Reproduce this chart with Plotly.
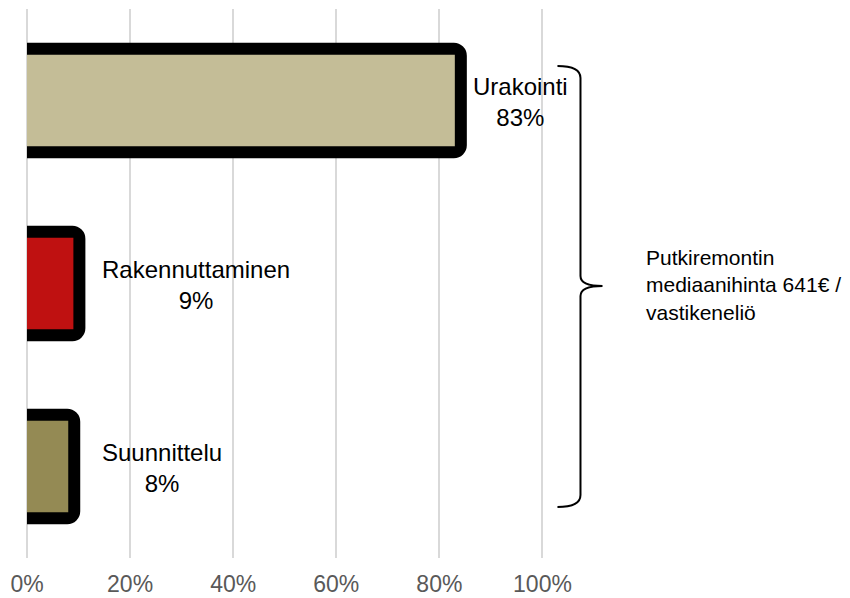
import plotly.graph_objects as go

categories = ["Urakointi", "Rakennuttaminen", "Suunnittelu"]
values = [83, 9, 8]
value_labels = ["83%", "9%", "8%"]
colors = ["#C4BD97", "#BF1111", "#948A54"]
tick_vals = [0, 20, 40, 60, 80, 100]
tick_text = ["0%", "20%", "40%", "60%", "80%", "100%"]
side_note = "Putkiremontin<br>mediaanihinta 641€ /<br>vastikeneliö"

# page has an 8px body margin; plot area wanted at page x 27..542, y 9..558
OFF = 8
W, H = 850 - OFF, 598 - OFF
X_MAX = 100.3
PX0, PX1, PY0, PY1 = 27, 542 + 0.3 * 5.15, 9, 558
L, R, T, B = PX0 - OFF, 850 - PX1, PY0 - OFF, 598 - PY1

def px(x):
    return (x - PX0) / (PX1 - PX0)

def py(y):
    return (PY1 - y) / (PY1 - PY0)

fig = go.Figure()
# black outline layer
fig.add_trace(go.Bar(
    y=categories, x=values, orientation="h", width=0.5,
    marker=dict(color="black", line=dict(color="black", width=24), cornerradius=1),
    hoverinfo="skip", showlegend=False,
))
# fill layer
fig.add_trace(go.Bar(
    y=categories, x=values, orientation="h", width=0.5,
    marker=dict(color=colors, line=dict(width=0)),
    showlegend=False,
))

shifts = [16, 27, 32]
for cat, v, lab, s in zip(categories, values, value_labels, shifts):
    fig.add_annotation(
        x=v, y=cat, xref="x", yref="y", text=f"{cat}<br>{lab}",
        showarrow=False, xanchor="left", yanchor="middle", align="center",
        xshift=s, yshift=-1,
        font=dict(family="Liberation Sans, Arial", size=24, color="black"),
    )

fig.add_annotation(
    x=px(645), y=py(285), xref="paper", yref="paper", text=side_note,
    showarrow=False, xanchor="left", yanchor="middle", align="left",
    xshift=-2,
    font=dict(family="Liberation Sans, Arial", size=21, color="black"),
)

brace = (
    f"M {px(557)},{py(66)} Q {px(580)},{py(66)} {px(580)},{py(78)} "
    f"L {px(580)},{py(276)} Q {px(580)},{py(286)} {px(602)},{py(286)} "
    f"Q {px(580)},{py(286)} {px(580)},{py(296)} "
    f"L {px(580)},{py(495)} Q {px(580)},{py(507)} {px(557)},{py(507)}"
)
fig.add_shape(type="path", path=brace, xref="paper", yref="paper",
              line=dict(color="black", width=2))

fig.update_layout(
    width=W, height=H,
    margin=dict(l=L, r=R, t=T, b=B, pad=0, autoexpand=False),
    paper_bgcolor="white", plot_bgcolor="white",
    barmode="overlay",
    xaxis=dict(
        range=[0, X_MAX], tickvals=tick_vals, ticktext=tick_text,
        showgrid=True, gridcolor="#D9D9D9", gridwidth=1.5,
        zeroline=True, zerolinecolor="#D9D9D9", zerolinewidth=1.5,
        showline=False, ticks="", automargin=False,
        tickfont=dict(family="Liberation Sans, Arial", size=23, color="#595959"),
        ticklabelstandoff=10,
        fixedrange=True,
    ),
    yaxis=dict(
        categoryorder="array", categoryarray=categories,
        showticklabels=False, showgrid=False, zeroline=False, showline=False,
        range=[2.5, -0.5], automargin=False,
    ),
)

fig.write_html("out.html")
